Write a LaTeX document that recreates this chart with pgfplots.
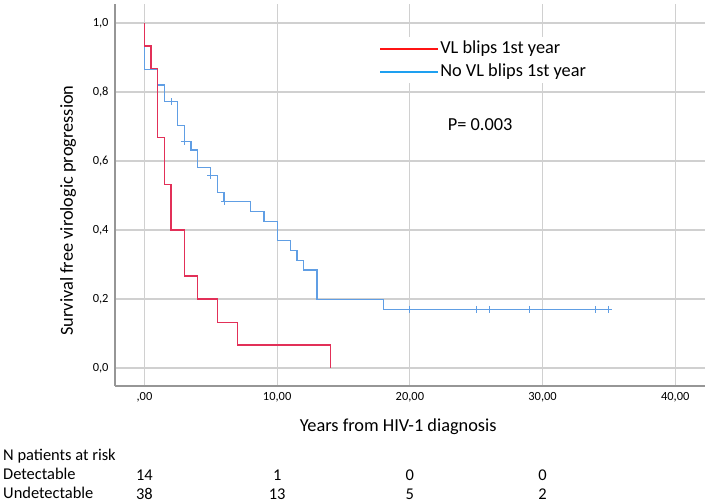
\documentclass[border=0pt]{standalone}
\usepackage{fontspec}
\setmainfont{Carlito}
\usepackage{pgfplots}
\pgfplotsset{compat=1.18}

\definecolor{kmred}{RGB}{226,48,88}
\definecolor{kmblue}{RGB}{96,158,228}
\definecolor{legred}{RGB}{255,20,20}
\definecolor{legblue}{RGB}{30,160,240}
\definecolor{gridgray}{RGB}{208,208,208}
\definecolor{axgray}{RGB}{150,150,150}

\begin{document}
\begin{tikzpicture}[x=1bp,y=1bp]
\useasboundingbox (0,0) rectangle (709,504);
\begin{axis}[
  at={(115bp,118bp)}, anchor=south west,
  scale only axis, width=590bp, height=382bp,
  xmin=-2.22, xmax=42.24, ymin=-0.052, ymax=1.055,
  axis x line*=bottom, axis y line*=left,
  axis line style={axgray, line width=1.3bp, -},
  xtick={0,10,20,30,40},
  xticklabels={{,00},{10,00},{20,00},{30,00},{40,00}},
  ytick={0,0.2,0.4,0.6,0.8,1.0},
  yticklabels={{0,0},{0,2},{0,4},{0,6},{0,8},{1,0}},
  major tick length=0pt,
  tick label style={font=\fontsize{12.5}{14}\selectfont},
  xticklabel style={yshift=-3bp},
  yticklabel style={xshift=-3bp},
  grid=major, grid style={gridgray, line width=1.2bp},
  clip=false,
  xlabel={Years from HIV-1 diagnosis},
  xlabel style={at={(axis description cs:0.48,-0.107)}, anchor=center, font=\fontsize{18.4}{22}\selectfont},
  ylabel={Survival free virologic progression},
  ylabel style={at={(axis description cs:-0.0797,0.459)}, anchor=center, font=\fontsize{18.4}{22}\selectfont},
  legend image code/.code={\path (0bp,0bp) -- (58bp,0bp); \draw[#1] (0bp,0bp) -- (48bp,0bp);},
  legend cell align=left,
  legend style={at={(0.4426,0.914)}, anchor=north west, draw=none, fill=white,
    font=\fontsize{18.4}{22}\selectfont,
    nodes={inner sep=1bp, text height=13bp, text depth=4bp}, row sep=4bp},
]
\addlegendimage{legred, line width=2bp}
\addlegendentry{VL blips 1st year}
\addlegendimage{legblue, line width=2bp}
\addlegendentry{No VL blips 1st year}

% no VL blips
\addplot[kmblue, line width=1.2bp, const plot, forget plot] coordinates {
  (0,1.0) (0,0.864) (1.0,0.820) (1.5,0.772) (2.5,0.702) (3.0,0.656)
  (3.5,0.632) (4.0,0.582) (5.0,0.557) (5.5,0.509) (6.0,0.482)
  (8.0,0.453) (9.0,0.424) (10.0,0.369) (11.0,0.340) (11.5,0.311)
  (12.0,0.284) (13.0,0.199) (18.0,0.170) (35.0,0.170)};
\addplot[kmblue, only marks, mark=+, mark size=3.5bp, line width=1bp, forget plot] coordinates {
  (2.0,0.772) (3.0,0.656) (5.0,0.557) (6.05,0.482)
  (20,0.170) (25,0.170) (26,0.170) (29,0.170) (34,0.170) (35,0.170)};

% VL blips
\addplot[kmred, line width=1.2bp, const plot, forget plot] coordinates {
  (0,1.0) (0,0.933) (0.5,0.867) (1.0,0.667) (1.5,0.533) (2.0,0.400)
  (3.0,0.267) (4.0,0.200) (5.5,0.133) (7.0,0.067) (14.0,0.0)};

% patients at risk
\addplot[only marks, mark=*, mark size=0pt, mark options={draw=none, fill=none},
  nodes near coords, point meta=explicit symbolic,
  nodes near coords style={anchor=base, inner sep=0pt, black, font=\fontsize{16.5}{19}\selectfont},
  forget plot] coordinates {
  (0,-0.3246) [14] (10,-0.3246) [1] (20,-0.3246) [0] (30,-0.3246) [0]
  (0,-0.3797) [38] (10,-0.3797) [13] (20,-0.3797) [5] (30,-0.3797) [2]};

\node[font=\fontsize{18.4}{22}\selectfont] at (axis cs:25.3,0.704) {P= 0.003};
\end{axis}
\begin{scope}[font=\fontsize{16.5}{19}\selectfont]
\node[anchor=base west, inner sep=0pt] at (3,43) {N patients at risk};
\node[anchor=base west, inner sep=0pt] at (3,24) {Detectable};
\node[anchor=base west, inner sep=0pt] at (3,5) {Undetectable};
\end{scope}
\end{tikzpicture}
\end{document}
